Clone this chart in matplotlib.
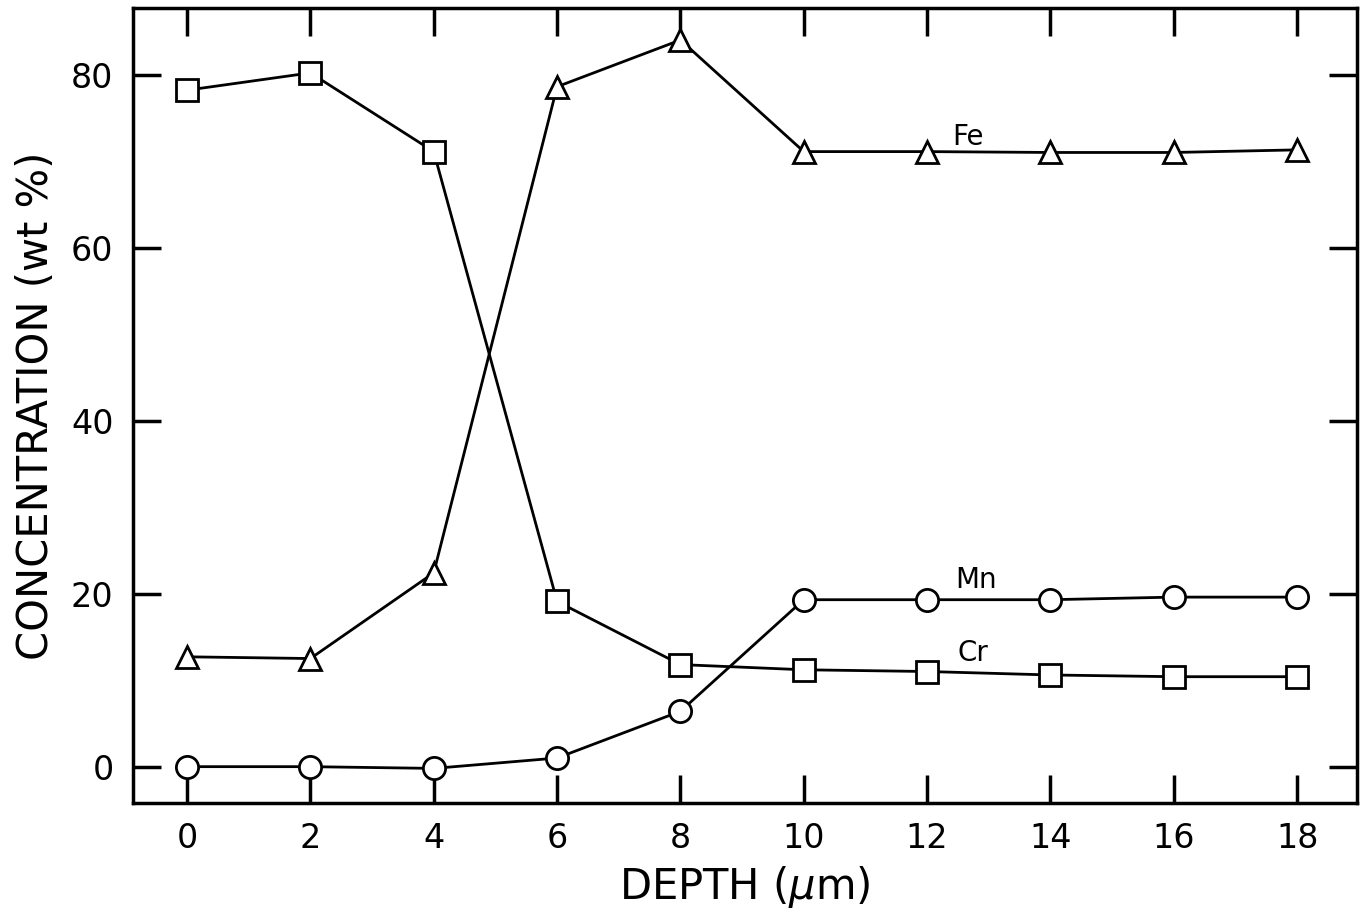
import matplotlib.pyplot as plt

depth = [0, 2, 4, 6, 8, 10, 12, 14, 16, 18]
fe = [12.7, 12.5, 22.4, 78.6, 84.0, 71.1, 71.1, 71.0, 71.0, 71.3]
cr = [78.2, 80.2, 71.1, 19.1, 11.8, 11.2, 11.0, 10.6, 10.4, 10.4]
mn = [0.0, 0.0, -0.2, 1.0, 6.4, 19.3, 19.3, 19.3, 19.6, 19.6]

xticks = [0, 2, 4, 6, 8, 10, 12, 14, 16, 18]
yticks = [0, 20, 40, 60, 80]

fig = plt.figure(figsize=(13.67, 9.13), dpi=100)
ax = fig.add_axes([133 / 1367, 1 - 803 / 913, 1224 / 1367, 795 / 913])

style = dict(color='black', lw=2, mfc='white', mec='black', mew=2, ms=16)
ax.plot(depth, fe, marker='^', **style)
ax.plot(depth, cr, marker='s', **style)
ax.plot(depth, mn, marker='o', **style)

ax.text(12.4, 71.9, 'Fe', fontsize=20)
ax.text(12.45, 20.7, 'Mn', fontsize=20)
ax.text(12.5, 12.2, 'Cr', fontsize=20)

ax.set_xlim(-0.876, 18.97)
ax.set_ylim(-4.2, 87.7)
ax.set_xticks(xticks)
ax.set_yticks(yticks)
ax.tick_params(direction='in', length=20, width=2.5, labelsize=24, pad=14,
               top=True, right=True)
for s in ax.spines.values():
    s.set_linewidth(2.5)

ax.set_xlabel('DEPTH ($\\mu$m)', fontsize=30, labelpad=6)
ax.set_ylabel('CONCENTRATION (wt %)', fontsize=30, labelpad=10)

fig.savefig('out.png', dpi=100)
